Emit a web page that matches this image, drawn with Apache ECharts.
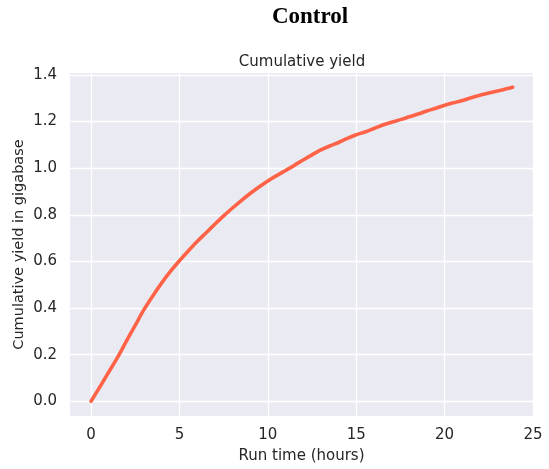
<!DOCTYPE html>
<html>
<head>
<meta charset="utf-8">
<script src="https://cdn.jsdelivr.net/npm/echarts@6/dist/echarts.min.js"></script>
<style>
html,body{margin:0;padding:0;background:#fff;}
#chart{width:549px;height:469px;}
</style>
</head>
<body>
<div id="chart"></div>
<script>
// Run time in hours
const hours = [0,0.5,1,1.5,2,2.5,3,3.5,4,4.5,5,5.5,6,6.5,7,7.5,8,8.5,9,9.5,10,10.5,11,11.5,12,12.5,13,13.5,14,14.5,15,15.5,16,16.5,17,17.5,18,18.5,19,19.5,20,20.5,21,21.5,22,22.5,23,23.5,23.85];
// Cumulative yield in gigabase
const yieldGb = [0,0.062,0.125,0.188,0.258,0.326,0.394,0.453,0.508,0.558,0.603,0.645,0.685,0.722,0.759,0.795,0.829,0.861,0.891,0.919,0.945,0.968,0.99,1.012,1.035,1.057,1.078,1.095,1.11,1.128,1.143,1.155,1.17,1.185,1.197,1.208,1.22,1.232,1.245,1.257,1.27,1.28,1.29,1.302,1.313,1.322,1.331,1.34,1.347];
const xTicks = [0,5,10,15,20,25];
const yTicks = [0,0.2,0.4,0.6,0.8,1.0,1.2,1.4];

const points = hours.map((h,i)=>[h, yieldGb[i]]);
const txt = '#262626';
const font = 'DejaVu Sans';

const chart = echarts.init(document.getElementById('chart'), null, {renderer:'canvas'});
chart.setOption({
  backgroundColor:'#ffffff',
  animation:false,
  title:[
    {text:'Control', left:305, top:1, textAlign:'center',
     textStyle:{fontFamily:'Liberation Serif', fontWeight:'bold', fontSize:23, color:'#000'}},
    {text:'Cumulative yield', left:297, top:50, textAlign:'center',
     textStyle:{fontFamily:font, fontWeight:'normal', fontSize:15, color:txt}}
  ],
  grid:{left:70, right:16, top:73, bottom:53, backgroundColor:'#EAEAF2', show:true, borderWidth:0},
  xAxis:{
    type:'value', min:-1.19, max:25,
    name:'Run time (hours)', nameLocation:'middle', nameGap:33,
    nameTextStyle:{fontFamily:font, fontSize:15, color:txt},
    axisLine:{show:false}, axisTick:{show:false, customValues:xTicks},
    axisLabel:{customValues:xTicks, fontFamily:font, fontSize:15, color:txt, margin:12},
    splitLine:{show:true, customValues:xTicks, lineStyle:{color:'#ffffff', width:1.3}}
  },
  yAxis:{
    type:'value', min:-0.063, max:1.408,
    name:'Cumulative yield in gigabase', nameLocation:'middle', nameGap:43, nameMoveOverlap:false,
    nameTextStyle:{fontFamily:font, fontSize:14.5, color:txt},
    axisLine:{show:false}, axisTick:{show:false, customValues:yTicks},
    axisLabel:{customValues:yTicks, fontFamily:font, fontSize:15, color:txt, margin:13,
      formatter:v=>v.toFixed(1)},
    splitLine:{show:true, customValues:yTicks, lineStyle:{color:'#ffffff', width:1.3}}
  },
  series:[{
    type:'line', data:points, showSymbol:false, smooth:0.3,
    lineStyle:{color:'#FF6347', width:3.6, cap:'round', join:'round'}
  }]
});
</script>
</body>
</html>
